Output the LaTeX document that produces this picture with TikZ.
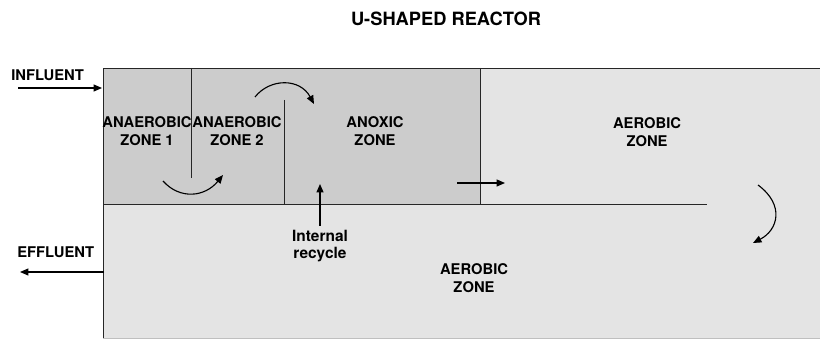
\documentclass[tikz,border=0pt]{standalone}
\usepackage{fontspec}
\setmainfont{TeX Gyre Heros}
\usetikzlibrary{arrows.meta, positioning, calc}
\definecolor{zonedark}{RGB}{204,204,204}
\definecolor{zonelight}{RGB}{228,228,228}

\tikzset{
  zonelabel/.style={font=\fontsize{10.5}{12.5}\selectfont\bfseries, align=center, inner sep=0pt},
  flow/.style={-{Triangle[length=6pt,width=5pt]}, line width=0.8pt},
  wall/.style={line width=0.7pt, black!85},
}

\begin{document}
\begin{tikzpicture}[x=0.025cm, y=-0.025cm]
    \useasboundingbox (0,0) rectangle (820,340);

    %% Tank fills
    \fill[zonelight] (103,68) rectangle (820,338);
    \fill[zonedark] (103,68) rectangle (480,204);

    %% Walls and baffles
    \draw[wall] (820,68) -- (103,68) -- (103,338);
    \draw[black!25] (103,338) -- (820,338);
    \draw[wall] (103,204) -- (707,204);
    \draw[wall] (480,68) -- (480,204);
    \draw[wall] (191,68) -- (191,178);
    \draw[wall] (284,100) -- (284,204);

    %% Title
    \node[font=\fontsize{13}{14}\selectfont\bfseries] (title) at (446,19) {U-SHAPED REACTOR};

    %% Zone labels
    \node[zonelabel] (ana1) at (147,131) {ANAEROBIC\\ZONE 1};
    \node[zonelabel] (ana2) at (237,131) {ANAEROBIC\\ZONE 2};
    \node[zonelabel] (anox) at (375,131) {ANOXIC\\ZONE};
    \node[zonelabel] (aer1) at (647,132) {AEROBIC\\ZONE};
    \node[zonelabel] (aer2) at (474,278) {AEROBIC\\ZONE};
    \node[zonelabel, font=\fontsize{11}{12.5}\selectfont\bfseries] (recy) at (320,246) {Internal\\recycle};

    %% Inlet and outlet
    \node[zonelabel, anchor=west] (infl) at (11,75) {INFLUENT};
    \node[zonelabel, anchor=west] (effl) at (17,252) {EFFLUENT};
    \coordinate (inS) at (18,88);
    \coordinate (inE) at (102,88);
    \coordinate (outS) at (104,272);
    \coordinate (outE) at (20,272);
    \draw[flow] (inS) -- (inE);
    \draw[flow] (outS) -- (outE);

    %% Flow arrows inside the tank
    \coordinate (recS) at (320,226);
    \coordinate (recE) at (320,184);
    \draw[flow] (recS) -- (recE);
    \coordinate (axS) at (457,183);
    \coordinate (axE) at (505,183);
    \draw[flow] (axS) -- (axE);

    \coordinate (c1S) at (163,181);
    \coordinate (c1E) at (223,175);
    \draw[flow] (c1S) .. controls (180,200) and (205,197) .. (c1E);
    \coordinate (c2S) at (255,97);
    \coordinate (c2E) at (314,104);
    \draw[flow] (c2S) .. controls (270,78) and (300,78) .. (c2E);
    \coordinate (c3S) at (758,185);
    \coordinate (c3E) at (753,243);
    \draw[flow] (c3S) .. controls (785,205) and (778,230) .. (c3E);
\end{tikzpicture}
\end{document}
